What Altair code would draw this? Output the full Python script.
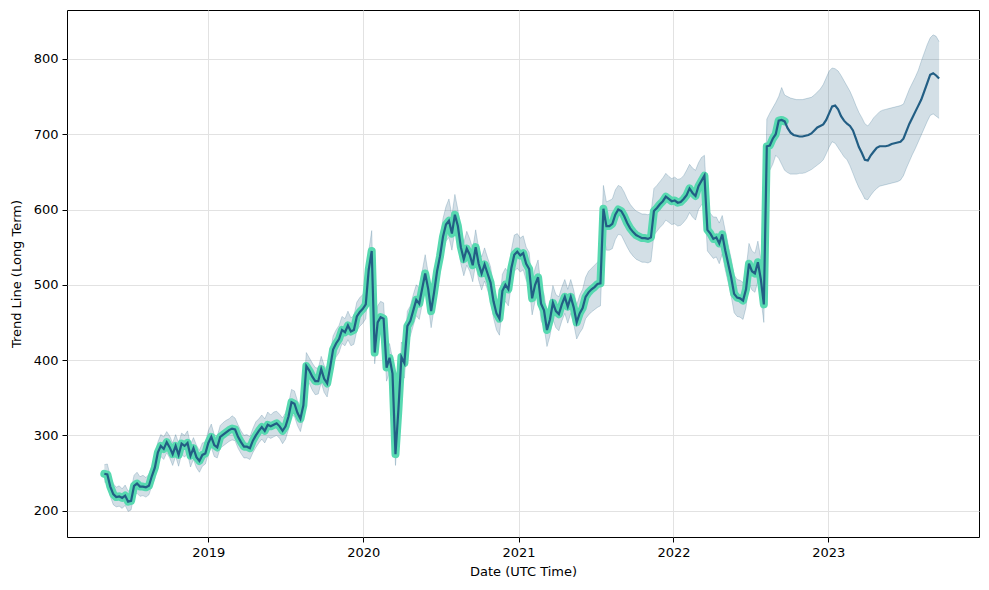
import altair as alt
import pandas as pd

# ---- data (weekly samples starting 2018-05-01) ----
start_date = "2018-05-01"
step = "7D"

actual = [
    249, 248, 232, 222, 218, 219, 217, 220, 212, 213,
    233, 236, 232, 232, 231, 233, 246, 257, 277, 286,
    282, 291, 284, 275, 286, 274, 289, 286, 290, 273,
    283, 271, 266, 274, 276, 290, 298, 287, 284, 298,
    301, 304, 307, 309, 308, 298, 291, 285, 285, 283,
    293, 300, 306, 311, 306, 314, 312, 314, 316, 312,
    306, 312, 325, 344, 342, 330, 322, 340, 392, 386,
    378, 372, 372, 388, 375, 369, 390, 414, 422, 428,
    440, 437, 446, 438, 440, 458, 464, 468, 474, 520,
    545, 410, 450, 457, 455, 390, 403, 382, 275, 335,
    404, 396, 445, 452, 466, 480, 475, 495, 515, 495,
    465, 490, 518, 538, 564, 580, 585, 568, 593, 578,
    550, 534, 548, 540, 526, 550, 528, 515, 527, 515,
    503, 478, 462, 455, 492, 500, 494, 522, 540, 544,
    539, 542, 528, 521, 482, 500, 510, 475, 466, 440,
    454, 476, 465, 461, 474, 484, 471, 484, 470, 450,
    462, 469, 484, 490, 494, 497, 501, 502, 601, 578,
    578, 581, 593, 600, 598, 591, 582, 575, 570, 566,
    564, 562, 562, 561, 563, 598, 602, 607, 611, 617,
    614, 611, 612, 609, 610, 614, 619, 628, 622, 618,
    631, 638, 645, 573, 568, 561, 563, 555, 567, 546,
    528, 510, 488, 483, 482, 479, 494, 528, 518, 515,
    530, 507, 474, 684, 685, 694, 700, 718, 719, 717,
]

forecast = [
    708, 702, 699, 698, 697, 697, 698, 699, 701, 705,
    709, 711, 713, 719, 728, 737, 738, 733, 724, 718,
    714, 711, 705, 694, 683, 675, 666, 665, 672, 677,
    682, 684, 684, 684, 685, 687, 688, 689, 690, 694,
    704, 714, 722, 730, 738, 746, 757, 768, 779, 781,
    778, 774,
]

band_upper = [
    261, 262, 246, 236, 231, 233, 229, 234, 226, 228,
    247, 251, 245, 247, 244, 248, 259, 272, 291, 301,
    298, 305, 299, 290, 301, 290, 303, 300, 306, 288,
    297, 287, 280, 290, 291, 306, 315, 301, 299, 313,
    317, 320, 322, 326, 323, 314, 306, 300, 301, 298,
    309, 318, 322, 327, 322, 331, 327, 331, 332, 328,
    323, 330, 342, 361, 359, 346, 339, 357, 410, 403,
    396, 390, 389, 405, 393, 386, 408, 432, 440, 446,
    458, 455, 465, 456, 459, 477, 483, 487, 495, 545,
    572, 432, 472, 478, 476, 410, 422, 402, 290, 355,
    424, 416, 465, 472, 487, 500, 496, 518, 540, 516,
    485, 512, 540, 560, 588, 604, 614, 592, 620, 600,
    572, 556, 571, 561, 548, 573, 549, 537, 549, 536,
    524, 500, 483, 477, 514, 522, 516, 546, 566, 568,
    562, 565, 550, 543, 504, 522, 533, 497, 488, 462,
    476, 499, 487, 484, 497, 507, 494, 507, 493, 473,
    486, 494, 510, 518, 522, 526, 530, 534, 632, 610,
    612, 614, 626, 632, 630, 623, 614, 607, 602, 598,
    596, 594, 594, 593, 595, 628, 632, 637, 642, 648,
    644, 641, 643, 640, 641, 645, 652, 660, 655, 652,
    662, 669, 672, 600, 595, 590, 590, 582, 592, 572,
    553, 535, 513, 507, 506, 503, 520, 555, 545, 542,
    558, 534, 500, 720, 728, 735, 742, 750, 762, 752,
    750, 748, 747, 746, 746, 746, 747, 748, 749, 752,
    756, 760, 766, 775, 784, 788, 787, 784, 778, 771,
    764, 757, 748, 738, 729, 722, 714, 711, 716, 722,
    726, 730, 732, 733, 734, 735, 736, 737, 738, 740,
    750, 760, 768, 776, 785, 797, 808, 819, 828, 832,
    830, 823,
]

band_lower = [
    238, 236, 219, 208, 205, 206, 203, 207, 199, 201,
    221, 223, 219, 220, 218, 221, 233, 243, 263, 272,
    268, 277, 270, 260, 272, 259, 275, 271, 276, 258,
    268, 257, 251, 259, 262, 275, 284, 272, 270, 283,
    286, 289, 292, 294, 293, 283, 276, 270, 270, 268,
    277, 284, 290, 295, 290, 298, 296, 298, 300, 296,
    289, 295, 308, 327, 325, 313, 305, 322, 374, 369,
    360, 354, 355, 370, 357, 351, 372, 396, 404, 410,
    422, 419, 427, 419, 421, 439, 445, 449, 455, 500,
    525, 395, 430, 437, 435, 372, 384, 362, 260, 316,
    384, 376, 425, 432, 446, 459, 454, 474, 494, 474,
    443, 468, 496, 516, 542, 558, 563, 546, 571, 556,
    528, 512, 526, 518, 504, 528, 506, 493, 505, 493,
    481, 456, 440, 433, 470, 478, 472, 500, 518, 522,
    517, 520, 506, 499, 460, 478, 488, 453, 444, 418,
    432, 454, 443, 439, 452, 462, 449, 462, 448, 428,
    436, 442, 455, 460, 464, 467, 470, 472, 568, 546,
    546, 548, 560, 567, 566, 558, 550, 543, 538, 534,
    532, 530, 530, 529, 531, 566, 571, 576, 580, 586,
    583, 580, 581, 578, 579, 583, 588, 596, 590, 586,
    600, 606, 612, 545, 540, 535, 537, 528, 541, 520,
    503, 485, 463, 458, 457, 454, 470, 502, 493, 490,
    505, 482, 450, 650, 652, 660, 672, 668, 660, 652,
    649, 647, 647, 647, 648, 648, 649, 651, 653, 656,
    659, 662, 666, 674, 683, 690, 688, 682, 676, 670,
    666, 658, 648, 638, 629, 622, 614, 613, 619, 624,
    628, 631, 632, 633, 634, 635, 636, 637, 639, 645,
    655, 664, 673, 681, 690, 699, 708, 717, 725, 727,
    724, 721,
]

year_ticks = [2019, 2020, 2021, 2022, 2023]
y_ticks = [200, 300, 400, 500, 600, 700, 800]

# ---- tables ----
n_all = len(actual) + len(forecast)
dates = pd.date_range(start_date, periods=n_all, freq=step)
df = pd.DataFrame({
    "date": dates,
    "trend": actual + forecast,
    "upper": band_upper[:n_all],
    "lower": band_lower[:n_all],
})
df_act = pd.DataFrame({"date": dates[: len(actual)], "actual": actual})

DARK = "#225e84"
AQUA = "#57d9b0"

x_enc = alt.X(
    "date:T",
    scale=alt.Scale(domain=[alt.DateTime(year=2018, month=2, date=2),
                            alt.DateTime(year=2023, month=12, date=22)]),
    axis=alt.Axis(
        title="Date (UTC Time)",
        values=[alt.DateTime(year=y, month=1, date=1) for y in year_ticks],
        format="%Y",
        labelAngle=0,
        titlePadding=6,
    ),
)
y_scale = alt.Scale(domain=[165, 865], nice=False, zero=False)
y_axis = alt.Axis(title="Trend Line (Long Term)", values=y_ticks, titlePadding=10)

band = alt.Chart(df).mark_area(color=DARK, opacity=0.2).encode(
    x=x_enc,
    y=alt.Y("upper:Q", scale=y_scale, axis=y_axis),
    y2="lower:Q",
)
edge_u = alt.Chart(df).mark_line(color=DARK, opacity=0.22, strokeWidth=1).encode(
    x=x_enc, y=alt.Y("upper:Q", scale=y_scale, axis=y_axis)
)
edge_l = alt.Chart(df).mark_line(color=DARK, opacity=0.22, strokeWidth=1).encode(
    x=x_enc, y=alt.Y("lower:Q", scale=y_scale, axis=y_axis)
)
act_line = alt.Chart(df_act).mark_line(
    color=AQUA, strokeWidth=8, strokeJoin="round", strokeCap="round"
).encode(x=x_enc, y=alt.Y("actual:Q", scale=y_scale, axis=y_axis))
trend_line = alt.Chart(df).mark_line(color=DARK, strokeWidth=2.2).encode(
    x=x_enc, y=alt.Y("trend:Q", scale=y_scale, axis=y_axis)
)

chart = (
    alt.layer(band, edge_u, edge_l, act_line, trend_line)
    .properties(
        width=912,
        height=527,
        autosize=alt.AutoSizeParams(type="none"),
        padding={"left": 67, "top": 10, "right": 10, "bottom": 53},
        background="white",
    )
    .configure_view(stroke="black", strokeWidth=1)
    .configure_axis(
        domain=False,
        grid=True,
        gridColor="#e2e2e2",
        gridWidth=1,
        tickColor="black",
        tickSize=5,
        tickWidth=1,
        labelFont="DejaVu Sans",
        labelFontSize=13,
        labelColor="black",
        labelPadding=4,
        titleFont="DejaVu Sans",
        titleFontSize=13,
        titleFontWeight="normal",
        titleColor="black",
    )
)

chart.save("out.html", embed_options={"renderer": "svg", "actions": False})
